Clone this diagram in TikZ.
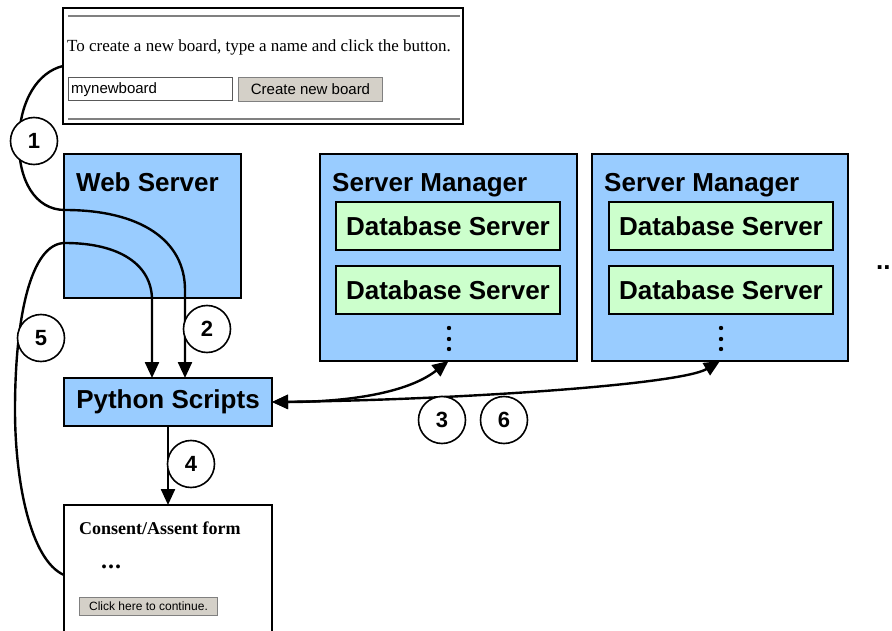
\documentclass[tikz,border=0pt]{standalone}
\usepackage{fontspec}
\setmainfont{Liberation Serif}
\setsansfont{Liberation Sans}
\usetikzlibrary{arrows.meta,calc}
\definecolor{boxblue}{HTML}{99CCFF}
\definecolor{boxgreen}{HTML}{CCFFCC}
\definecolor{btngray}{HTML}{D4D0C8}
\tikzset{
  bluebox/.style={draw=black, line width=2pt, fill=boxblue, inner sep=0pt, outer sep=0pt},
  greenbox/.style={draw=black, line width=2pt, fill=boxgreen, inner sep=0pt, outer sep=0pt,
    minimum width=224pt, minimum height=48pt, font=\fontsize{26}{30}\selectfont\sffamily\bfseries},
  boxtitle/.style={anchor=base west, inner sep=0pt, font=\fontsize{26}{30}\selectfont\sffamily\bfseries},
  numcirc/.style={circle, draw=black, line width=1.6pt, fill=white, minimum size=47pt, inner sep=0pt,
    font=\fontsize{22}{25}\selectfont\sffamily\bfseries},
  conn/.style={line width=2.4pt, -{Triangle[length=16pt,width=14pt]}},
  dconn/.style={line width=2.4pt, {Triangle[length=16pt,width=14pt]}-{Triangle[length=16pt,width=14pt]}},
  pagebox/.style={draw=black, line width=2pt, fill=white, inner sep=0pt, outer sep=0pt},
  btn/.style={fill=btngray, draw=gray, line width=1pt, inner sep=0pt, anchor=north west},
}
\begin{document}
\begin{tikzpicture}[x=1pt,y=-1pt]
\useasboundingbox (0,0) rectangle (892,631);
\clip (0,0) rectangle (892,631);

% top web form
\node[pagebox, minimum width=400pt, minimum height=116pt] (form) at (263,66) {};
\draw[gray, line width=1.5pt] (68,16) -- (460,16);
\draw[gray, line width=1.5pt] (68,119) -- (460,119);
\node[anchor=west, inner sep=0pt, font=\fontsize{17}{20}\selectfont] (ftext) at (67,47)
  {To create a new board, type a name and click the button.};
\node[draw=gray!70!black, fill=white, line width=1pt, anchor=north west, inner sep=0pt,
  minimum width=164pt, minimum height=23pt] (tbox) at (68,77) {};
\node[anchor=base west, inner sep=0pt, font=\fontsize{15}{18}\selectfont\sffamily] (tboxtext) at (71,94) {mynewboard};
\node[btn, minimum width=144pt, minimum height=24pt, font=\fontsize{15}{18}\selectfont\sffamily] (cbtn) at (238,77) {Create new board};

% web server
\node[bluebox, minimum width=177pt, minimum height=144pt] (web) at (152.5,226) {};
\node[boxtitle] (webt) at (76,192) {Web Server};

% python scripts
\node[bluebox, minimum width=208pt, minimum height=48pt, font=\fontsize{26}{30}\selectfont\sffamily\bfseries] (py) at (168,402) {Python Scripts};

% server managers
\node[bluebox, minimum width=257pt, minimum height=207pt] (sm1) at (448.5,257.5) {};
\node[boxtitle] (sm1t) at (332,192) {Server Manager};
\node[greenbox] (db11) at (448,226) {Database Server};
\node[greenbox] (db12) at (448,290) {Database Server};
\foreach \yy in {328,339,349} \fill (449,\yy) circle (2.2pt);

\node[bluebox, minimum width=256pt, minimum height=207pt] (sm2) at (720,257.5) {};
\node[boxtitle] (sm2t) at (604,192) {Server Manager};
\node[greenbox] (db21) at (721,226) {Database Server};
\node[greenbox] (db22) at (721,290) {Database Server};
\foreach \yy in {328,339,349} \fill (721,\yy) circle (2.2pt);

\node[boxtitle] (more) at (876,270) {..};

% consent form
\node[pagebox, minimum width=208pt, minimum height=140pt] (consent) at (168,575) {};
\node[anchor=base west, inner sep=0pt, font=\fontsize{18}{21}\selectfont\bfseries] (ctitle) at (79,534) {Consent/Assent form};
\node[anchor=base west, inner sep=0pt, font=\fontsize{24}{28}\selectfont\bfseries] (cdots) at (101,568) {.\kern1pt.\kern1pt.};
\node[btn, minimum width=138pt, minimum height=18pt, font=\fontsize{12}{14}\selectfont\sffamily] (contbtn) at (79,597) {Click here to continue.};

% connectors
\draw[conn] (form.west) .. controls (38,72) and (20,100) .. (19,140)
  .. controls (18,180) and (35,210) .. (65,210)
  .. controls (140,210) and (185,240) .. (185,290) -- ([xshift=17pt]py.north);
\draw[conn] (consent.west) .. controls (30,560) and (15,480) .. (15,410)
  .. controls (15,320) and (30,243) .. (65,243)
  .. controls (120,243) and (152,265) .. (152,300) -- ([xshift=-16pt]py.north);
\draw[conn] (py.south) -- (consent.north);
\draw[dconn] (py.east) .. controls (340,402) and (405,395) .. (sm1.south);
\draw[dconn] (py.east) .. controls (450,400) and (680,385) .. (sm2.south);

% step numbers
\node[numcirc] (n1) at (34,141) {1};
\node[numcirc] (n2) at (207,329) {2};
\node[numcirc] (n3) at (442,420) {3};
\node[numcirc] (n4) at (191,464) {4};
\node[numcirc] (n5) at (41,338) {5};
\node[numcirc] (n6) at (504,420) {6};
\end{tikzpicture}
\end{document}
